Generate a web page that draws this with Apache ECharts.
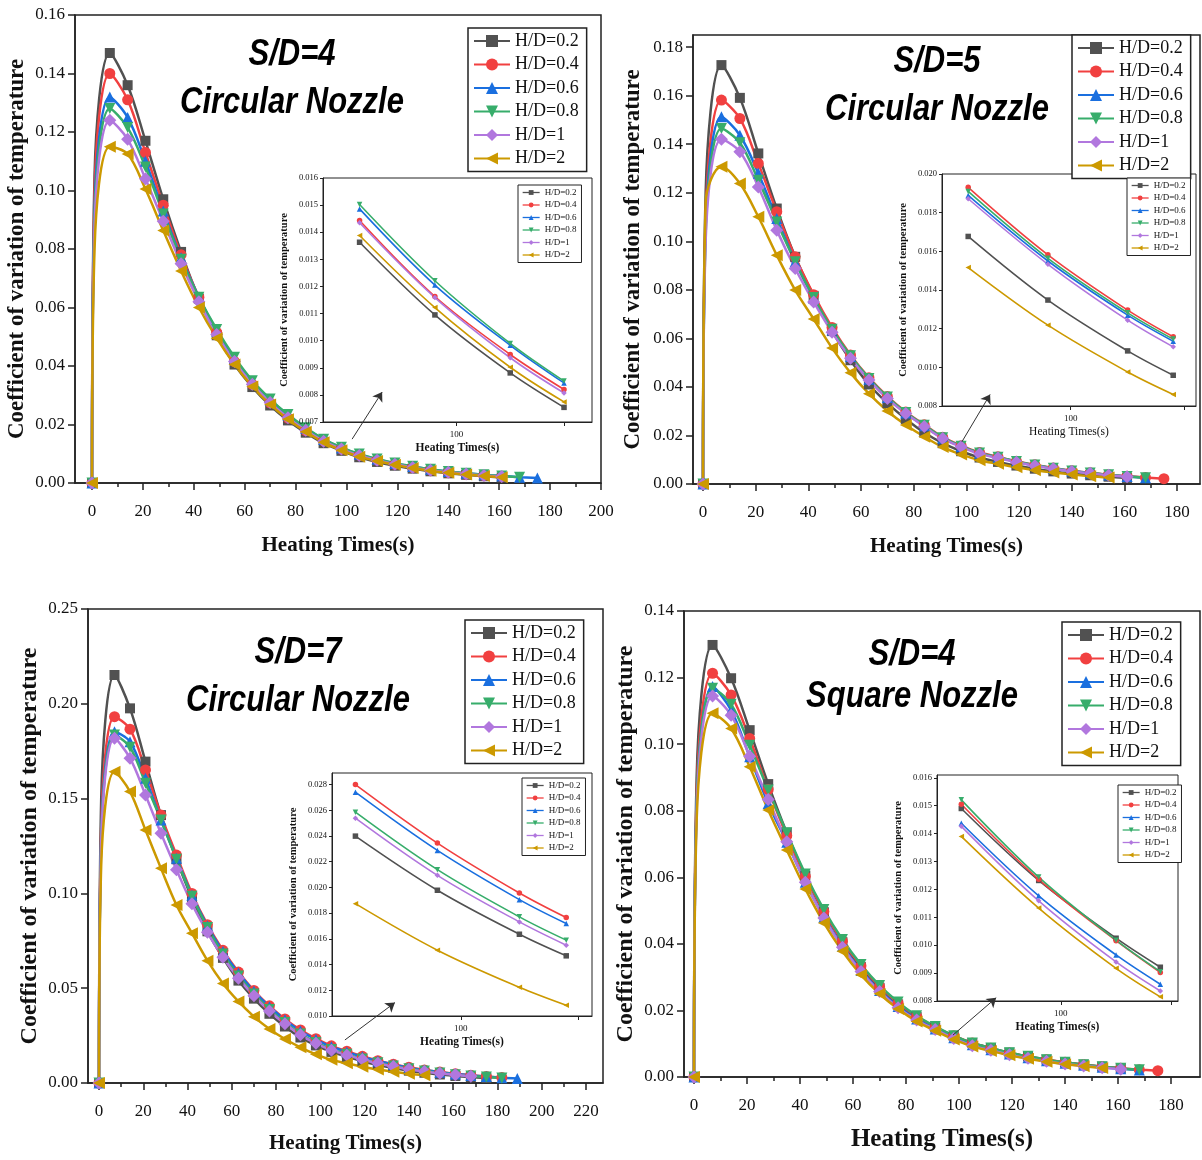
<!DOCTYPE html>
<html><head><meta charset="utf-8">
<script src="https://cdn.jsdelivr.net/npm/echarts@6/dist/echarts.min.js"></script>
<style>html,body{margin:0;padding:0;background:#fff}#c{width:1202px;height:1160px}</style>
</head><body><div id="c"></div>
<script>
// ---------- shared ----------
const times = [0,1,7,14,21,28,35,42,49,56,63,70,77,84,91,98,105,112,119,126,133,140,147,154,161,168,175,182,189];
const seriesNames = ['H/D=0.2','H/D=0.4','H/D=0.6','H/D=0.8','H/D=1','H/D=2'];

// ---------- panel 1 : S/D=4 circular ----------
const p1HD02 = [0,0.105,0.147,0.136,0.117,0.097,0.079,0.063,0.0505,0.0405,0.0328,0.0265,0.0214,0.0172,0.0136,0.0110,0.0088,0.0072,0.0059,0.0049,0.0040,0.0033,0.0028,0.0023,0.0019];
const p1HD04 = [0,0.100,0.140,0.131,0.113,0.095,0.078,0.0635,0.0515,0.0415,0.0337,0.0274,0.0222,0.0179,0.0144,0.0116,0.0095,0.0078,0.0064,0.0053,0.0044,0.0036,0.0030,0.0025,0.0021];
const p1HD06 = [0,0.094,0.132,0.125,0.110,0.093,0.077,0.0635,0.052,0.0425,0.0347,0.0284,0.0232,0.0187,0.0149,0.0120,0.0098,0.0081,0.0067,0.0056,0.0047,0.0039,0.0033,0.0028,0.0024,0.0020,0.0017];
const p1HD08 = [0,0.091,0.128,0.1215,0.108,0.092,0.0765,0.0635,0.0525,0.043,0.035,0.0287,0.0234,0.0189,0.0150,0.0122,0.0099,0.0082,0.0068,0.0057,0.0047,0.0039,0.0033,0.0028,0.0024,0.0020];
const p1HD1  = [0,0.088,0.124,0.1175,0.104,0.0895,0.075,0.062,0.0508,0.0415,0.0338,0.0275,0.0223,0.0180,0.0143,0.0116,0.0094,0.0078,0.0064,0.0053,0.0044,0.0037,0.0031,0.0026,0.0022];
const p1HD2  = [0,0.080,0.115,0.1125,0.1005,0.0863,0.0725,0.0600,0.0495,0.0405,0.0330,0.0268,0.0218,0.0175,0.0139,0.0112,0.0090,0.0075,0.0062,0.0051,0.0042,0.0035,0.0029,0.0024,0.0020];
const p1InsetTimes = [91,98,105,110];
const p1InHD02 = [0.01363,0.01095,0.00881,0.00754];
const p1InHD04 = [0.01443,0.01163,0.00949,0.00820];
const p1InHD06 = [0.01486,0.01205,0.00983,0.00844];
const p1InHD08 = [0.01502,0.01221,0.00990,0.00851];
const p1InHD1  = [0.01435,0.01159,0.00937,0.00807];
const p1InHD2  = [0.01388,0.01122,0.00902,0.00774];
const p1XTicks = [0,20,40,60,80,100,120,140,160,180,200];
const p1XMinor = [10,30,50,70,90,110,130,150,170,190];
const p1YTicks = [0,0.02,0.04,0.06,0.08,0.10,0.12,0.14,0.16];
const p1InYTicks = [0.007,0.008,0.009,0.010,0.011,0.012,0.013,0.014,0.015,0.016];

// ---------- panel 2 : S/D=5 circular ----------
const p2HD02 = [0,0.120,0.1726,0.1591,0.1362,0.1135,0.0936,0.0775,0.0630,0.0510,0.0410,0.0333,0.0268,0.0212,0.0168,0.0135,0.0109,0.0091,0.0076,0.0063,0.0052,0.0043,0.0036,0.0030,0.0025];
const p2HD04 = [0,0.110,0.1582,0.1506,0.1321,0.1122,0.0936,0.0780,0.0645,0.0532,0.0438,0.0361,0.0297,0.0244,0.0193,0.0158,0.0130,0.0112,0.0094,0.0079,0.0066,0.0055,0.0046,0.0038,0.0032,0.0027,0.0022];
const p2HD06 = [0,0.106,0.1513,0.1437,0.1280,0.1094,0.0916,0.0765,0.0635,0.0525,0.0432,0.0356,0.0293,0.0240,0.0189,0.0155,0.0127,0.0109,0.0092,0.0077,0.0064,0.0054,0.0045,0.0037,0.0031,0.0026];
const p2HD08 = [0,0.103,0.1465,0.1406,0.1252,0.1080,0.0916,0.0768,0.0638,0.0528,0.0435,0.0358,0.0295,0.0242,0.0191,0.0156,0.0128,0.0110,0.0093,0.0078,0.0065,0.0054,0.0045,0.0038,0.0031,0.0026];
const p2HD1  = [0,0.100,0.1420,0.1369,0.1224,0.1046,0.0888,0.0750,0.0625,0.0518,0.0428,0.0352,0.0290,0.0237,0.0187,0.0153,0.0124,0.0107,0.0090,0.0075,0.0063,0.0052,0.0044,0.0036,0.0030];
const p2HD2  = [0,0.116,0.1307,0.1238,0.1101,0.0943,0.0799,0.0680,0.0560,0.0458,0.0372,0.0301,0.0243,0.0195,0.0152,0.0122,0.0098,0.0083,0.0069,0.0057,0.0047,0.0039,0.0032,0.0027];
const p2InsetTimes = [91,98,105,109];
const p2InHD02 = [0.01677,0.01348,0.01085,0.00959];
const p2InHD04 = [0.01931,0.01582,0.01296,0.01158];
const p2InHD06 = [0.01889,0.01550,0.01270,0.01135];
const p2InHD08 = [0.01910,0.01564,0.01282,0.01146];
const p2InHD1  = [0.01872,0.01533,0.01244,0.01106];
const p2InHD2  = [0.01516,0.01218,0.00976,0.00860];
const p2XTicks = [0,20,40,60,80,100,120,140,160,180];
const p2XMinor = [10,30,50,70,90,110,130,150,170];
const p2YTicks = [0,0.02,0.04,0.06,0.08,0.10,0.12,0.14,0.16,0.18];
const p2InYTicks = [0.008,0.010,0.012,0.014,0.016,0.018,0.020];

// ---------- panel 3 : S/D=7 circular ----------
const p3HD02 = [0,0.150,0.2152,0.1976,0.1695,0.1413,0.1180,0.0975,0.0800,0.0660,0.0540,0.0445,0.0365,0.0298,0.0240,0.0198,0.0164,0.0139,0.0115,0.0095,0.0079,0.0065,0.0054,0.0045,0.0037,0.0031,0.0026];
const p3HD04 = [0,0.135,0.1932,0.1866,0.1651,0.1413,0.1202,0.1000,0.0835,0.0700,0.0585,0.0488,0.0407,0.0338,0.0280,0.0234,0.0196,0.0168,0.0141,0.0118,0.0099,0.0083,0.0069,0.0058,0.0049,0.0041,0.0034,0.0029];
const p3HD06 = [0,0.130,0.1853,0.1800,0.1607,0.1387,0.1185,0.0990,0.0828,0.0693,0.0580,0.0484,0.0402,0.0333,0.0274,0.0229,0.0191,0.0164,0.0138,0.0116,0.0097,0.0081,0.0068,0.0057,0.0048,0.0040,0.0034,0.0028,0.0024];
const p3HD08 = [0,0.128,0.1835,0.1771,0.1581,0.1387,0.1180,0.0985,0.0820,0.0680,0.0565,0.0470,0.0388,0.0319,0.0259,0.0214,0.0177,0.0151,0.0127,0.0107,0.0090,0.0075,0.0063,0.0053,0.0044,0.0037,0.0031,0.0026];
const p3HD1  = [0,0.127,0.1818,0.1713,0.1519,0.1317,0.1125,0.0945,0.0795,0.0663,0.0553,0.0460,0.0380,0.0312,0.0254,0.0209,0.0173,0.0147,0.0124,0.0104,0.0087,0.0073,0.0061,0.0051,0.0043,0.0036];
const p3HD2  = [0,0.115,0.1642,0.1537,0.1334,0.1132,0.0939,0.0790,0.0645,0.0525,0.0430,0.0350,0.0285,0.0232,0.0188,0.0151,0.0122,0.0104,0.0086,0.0071,0.0059,0.0049,0.0041];
const p3InsetTimes = [91,98,105,109];
const p3InHD02 = [0.02399,0.01978,0.01636,0.01468];
const p3InHD04 = [0.02800,0.02345,0.01957,0.01766];
const p3InHD06 = [0.02741,0.02288,0.01905,0.01719];
const p3InHD08 = [0.02585,0.02138,0.01771,0.01590];
const p3InHD1  = [0.02539,0.02094,0.01732,0.01551];
const p3InHD2  = [0.01874,0.01512,0.01223,0.01083];
const p3XTicks = [0,20,40,60,80,100,120,140,160,180,200,220];
const p3XMinor = [10,30,50,70,90,110,130,150,170,190,210];
const p3YTicks = [0,0.05,0.10,0.15,0.20,0.25];
const p3InYTicks = [0.010,0.012,0.014,0.016,0.018,0.020,0.022,0.024,0.026,0.028];

// ---------- panel 4 : S/D=4 square ----------
const p4HD02 = [0,0.090,0.1298,0.1198,0.1042,0.0880,0.0734,0.0605,0.0495,0.0405,0.0330,0.0268,0.0218,0.0180,0.0149,0.0123,0.0102,0.0087,0.0073,0.0062,0.0052,0.0044,0.0037,0.0031,0.0026];
const p4HD04 = [0,0.085,0.1213,0.1148,0.1017,0.0864,0.0725,0.0603,0.0497,0.0408,0.0334,0.0272,0.0222,0.0182,0.0150,0.0124,0.0102,0.0086,0.0072,0.0061,0.0052,0.0044,0.0037,0.0031,0.0026,0.0022,0.0019];
const p4HD06 = [0,0.082,0.1173,0.1102,0.0962,0.0822,0.0705,0.0585,0.0480,0.0393,0.0320,0.0260,0.0212,0.0174,0.0144,0.0118,0.0097,0.0082,0.0069,0.0058,0.0049,0.0041,0.0035,0.0029,0.0025,0.0021];
const p4HD08 = [0,0.082,0.1168,0.1120,0.0997,0.0862,0.0734,0.0610,0.0503,0.0413,0.0338,0.0275,0.0225,0.0184,0.0152,0.0124,0.0102,0.0087,0.0073,0.0062,0.0052,0.0044,0.0037,0.0031,0.0026,0.0022];
const p4HD1  = [0,0.080,0.1145,0.1087,0.0964,0.0834,0.0707,0.0585,0.0478,0.0390,0.0317,0.0257,0.0208,0.0171,0.0143,0.0116,0.0094,0.0080,0.0067,0.0056,0.0047,0.0039,0.0033,0.0028,0.0023];
const p4HD2  = [0,0.077,0.1093,0.1047,0.0932,0.0802,0.0682,0.0565,0.0463,0.0378,0.0307,0.0250,0.0204,0.0167,0.0139,0.0113,0.0092,0.0078,0.0065,0.0055,0.0046,0.0038,0.0032,0.0027];
const p4InsetTimes = [91,98,105,109];
const p4InHD02 = [0.01490,0.01232,0.01025,0.00921];
const p4InHD04 = [0.01505,0.01236,0.01016,0.00902];
const p4InHD06 = [0.01437,0.01177,0.00965,0.00860];
const p4InHD08 = [0.01521,0.01244,0.01018,0.00905];
const p4InHD1  = [0.01426,0.01159,0.00940,0.00836];
const p4InHD2  = [0.01390,0.01133,0.00917,0.00815];
const p4XTicks = [0,20,40,60,80,100,120,140,160,180];
const p4XMinor = [10,30,50,70,90,110,130,150,170];
const p4YTicks = [0,0.02,0.04,0.06,0.08,0.10,0.12,0.14];
const p4InYTicks = [0.008,0.009,0.010,0.011,0.012,0.013,0.014,0.015,0.016];

const insetXLabels = [100];
const insetXTicks = [100,110];

// ---------- styles ----------
const colors = ['#515151','#F14040','#1A6FDF','#37AD6B','#B177DE','#CC9900'];
const symbols = ['rect','circle','triangle','triangle','diamond','triangle'];
const rotates = [0,0,0,180,0,90];
const symSizes = [10,11,11,11,13,12];
const SERIF = '"Liberation Serif","DejaVu Serif",serif';
const SANS = '"Liberation Sans",Arial,sans-serif';
const AX = '#222';

const panels = [
 {main:[p1HD02,p1HD04,p1HD06,p1HD08,p1HD1,p1HD2], inset:[p1InHD02,p1InHD04,p1InHD06,p1InHD08,p1InHD1,p1InHD2], inT:p1InsetTimes,
  xTicks:p1XTicks, xMinor:p1XMinor, yTicks:p1YTicks, inYTicks:p1InYTicks,
  grid:{left:75,top:15,width:526,height:468}, xMin:-6.68, xMax:200, yMax:0.16,
  inGrid:{left:323,top:178,width:269,height:244}, inXMin:87.6, inXMax:112.6, inYMin:0.007, inYMax:0.016,
  arrow:[[102.2,0.0150],[114,0.0311]],
  t1:'S/D=4', t2:'Circular Nozzle', tx:292, ty1:55, ty2:103,
  legend:{left:468,top:28}, inLegend:{left:518,top:185},
  xNameSize:21, yNameSize:23, xNameGap:52, yNameGap:46, inXBold:true},
 {main:[p2HD02,p2HD04,p2HD06,p2HD08,p2HD1,p2HD2], inset:[p2InHD02,p2InHD04,p2InHD06,p2InHD08,p2InHD1,p2InHD2], inT:p2InsetTimes,
  xTicks:p2XTicks, xMinor:p2XMinor, yTicks:p2YTicks, inYTicks:p2InYTicks,
  grid:{left:693,top:35,width:507,height:449}, xMin:-3.8, xMax:188.7, yMax:0.185,
  inGrid:{left:942,top:174,width:254,height:232}, inXMin:88.7, inXMax:111.0, inYMin:0.008, inYMax:0.020,
  arrow:[[98.3,0.0174],[109,0.0369]],
  t1:'S/D=5', t2:'Circular Nozzle', tx:937, ty1:62, ty2:110,
  legend:{left:1072,top:35}, inLegend:{left:1127,top:178},
  xNameSize:21, yNameSize:23, xNameGap:52, yNameGap:48, inXBold:false},
 {main:[p3HD02,p3HD04,p3HD06,p3HD08,p3HD1,p3HD2], inset:[p3InHD02,p3InHD04,p3InHD06,p3InHD08,p3InHD1,p3InHD2], inT:p3InsetTimes,
  xTicks:p3XTicks, xMinor:p3XMinor, yTicks:p3YTicks, inYTicks:p3InYTicks,
  grid:{left:88,top:609,width:515,height:474}, xMin:-4.97, xMax:227.7, yMax:0.25,
  inGrid:{left:332,top:773,width:260,height:243}, inXMin:89.0, inXMax:111.2, inYMin:0.010, inYMax:0.0289,
  arrow:[[111.1,0.0227],[133.7,0.0424]],
  t1:'S/D=7', t2:'Circular Nozzle', tx:298, ty1:653, ty2:701,
  legend:{left:465,top:620}, inLegend:{left:522,top:778},
  xNameSize:21, yNameSize:24, xNameGap:50, yNameGap:46, inXBold:true},
 {main:[p4HD02,p4HD04,p4HD06,p4HD08,p4HD1,p4HD2], inset:[p4InHD02,p4InHD04,p4InHD06,p4InHD08,p4InHD1,p4InHD2], inT:p4InsetTimes,
  xTicks:p4XTicks, xMinor:p4XMinor, yTicks:p4YTicks, inYTicks:p4InYTicks,
  grid:{left:684,top:611,width:516,height:466}, xMin:-3.77, xMax:190.9, yMax:0.14,
  inGrid:{left:937,top:775,width:241,height:226}, inXMin:88.8, inXMax:110.6, inYMin:0.008, inYMax:0.0161,
  arrow:[[97.7,0.0126],[114,0.0238]],
  t1:'S/D=4', t2:'Square Nozzle', tx:912, ty1:655, ty2:697,
  legend:{left:1062,top:622}, inLegend:{left:1118,top:785},
  xNameSize:25, yNameSize:24, xNameGap:50, yNameGap:46, inXBold:true}
];

const option = {animation:false, backgroundColor:'#fff', grid:[], xAxis:[], yAxis:[], series:[], legend:[], graphic:[]};

panels.forEach((p) => {
  // ---- main grid ----
  const gi = option.grid.length;
  option.grid.push(Object.assign({show:true, borderColor:AX, borderWidth:1.5, backgroundColor:'rgba(0,0,0,0)'}, p.grid));
  const xi = option.xAxis.length, yi = option.yAxis.length;
  option.xAxis.push({type:'value', gridIndex:gi, min:p.xMin, max:p.xMax,
    axisLine:{show:true, onZero:false, lineStyle:{color:AX, width:1.5}},
    axisTick:{show:true, customValues:p.xTicks, length:7, lineStyle:{color:AX, width:1.5}},
    axisLabel:{customValues:p.xTicks, margin:20, fontSize:17, fontFamily:SERIF, color:'#111'},
    splitLine:{show:false},
    name:'Heating Times(s)', nameLocation:'middle', nameGap:p.xNameGap,
    nameTextStyle:{fontSize:p.xNameSize, fontWeight:'bold', fontFamily:SERIF, color:'#111'}});
  option.yAxis.push({type:'value', gridIndex:gi, min:0, max:p.yMax,
    axisLine:{show:true, onZero:false, lineStyle:{color:AX, width:1.5}},
    axisTick:{show:true, customValues:p.yTicks, length:7, lineStyle:{color:AX, width:1.5}},
    axisLabel:{customValues:p.yTicks, margin:10, fontSize:17, fontFamily:SERIF, color:'#111', formatter:v=>v.toFixed(2)},
    splitLine:{show:false},
    name:'Coefficient of variation of temperature', nameLocation:'middle', nameGap:p.yNameGap,
    nameTextStyle:{fontSize:p.yNameSize, fontWeight:'bold', fontFamily:SERIF, color:'#111'}});
  // ---- minor ticks grid (same geometry) ----
  const gm = option.grid.length;
  option.grid.push(Object.assign({show:false}, p.grid));
  option.xAxis.push({type:'value', gridIndex:gm, min:p.xMin, max:p.xMax,
    axisLine:{show:false}, axisLabel:{show:false}, splitLine:{show:false},
    axisTick:{show:true, customValues:p.xMinor, length:4, lineStyle:{color:AX, width:1.5}}});
  option.yAxis.push({type:'value', gridIndex:gm, min:0, max:1, show:false});

  // ---- main series ----
  p.main.forEach((vals, k) => {
    const s = {type:'line', name:seriesNames[k], xAxisIndex:xi, yAxisIndex:yi,
      data: vals.map((v,i) => i === 1 ? {value:[times[i], v], symbol:'none'} : [times[i], v]),
      smooth:0.35, symbol:symbols[k], symbolRotate:rotates[k], symbolSize:symSizes[k], showAllSymbol:true,
      lineStyle:{width:2.5, color:colors[k]}, itemStyle:{color:colors[k]}, z:2};
    if (k === 0) {
      s.markLine = {silent:true, z:40, symbol:['none','arrow'], symbolSize:9, label:{show:false},
        lineStyle:{color:'#333', width:1, type:'solid'},
        data:[[{coord:p.arrow[0]},{coord:p.arrow[1]}]]};
    }
    option.series.push(s);
  });

  // ---- inset ----
  const gin = option.grid.length;
  option.grid.push(Object.assign({show:true, borderColor:AX, borderWidth:1, backgroundColor:'#fff', z:10}, p.inGrid));
  const xin = option.xAxis.length, yin = option.yAxis.length;
  option.xAxis.push({type:'value', gridIndex:gin, min:p.inXMin, max:p.inXMax, z:12,
    axisLine:{show:true, onZero:false, lineStyle:{color:AX, width:1}},
    axisTick:{show:true, customValues:insetXTicks, length:4, lineStyle:{color:AX, width:1}},
    axisLabel:{customValues:insetXLabels, margin:8, fontSize:9, fontFamily:SERIF, color:'#111'},
    splitLine:{show:false},
    name:'Heating Times(s)', nameLocation:'middle', nameGap:20,
    nameTextStyle:{fontSize:11.5, fontWeight:p.inXBold ? 'bold' : 'normal', fontFamily:SERIF, color:'#111'}});
  option.yAxis.push({type:'value', gridIndex:gin, min:p.inYMin, max:p.inYMax, z:12,
    axisLine:{show:true, onZero:false, lineStyle:{color:AX, width:1}},
    axisTick:{show:true, customValues:p.inYTicks, length:3, lineStyle:{color:AX, width:1}},
    axisLabel:{customValues:p.inYTicks, margin:5, fontSize:8.5, fontFamily:SERIF, color:'#111', formatter:v=>v.toFixed(3)},
    splitLine:{show:false},
    name:'Coefficient of variation of temperature', nameLocation:'middle', nameGap:33,
    nameTextStyle:{fontSize:10.5, fontWeight:'bold', fontFamily:SERIF, color:'#111'}});
  p.inset.forEach((vals, k) => {
    option.series.push({type:'line', name:seriesNames[k], xAxisIndex:xin, yAxisIndex:yin,
      data: vals.map((v,i) => [p.inT[i], v]),
      smooth:0.35, symbol:symbols[k], symbolRotate:rotates[k], symbolSize:5.5, showAllSymbol:true,
      lineStyle:{width:1.6, color:colors[k]}, itemStyle:{color:colors[k]}, z:12});
  });

  // ---- legends ----
  option.legend.push({data:seriesNames, orient:'vertical', left:p.legend.left, top:p.legend.top,
    backgroundColor:'#fff', borderColor:AX, borderWidth:1.5, borderRadius:0, padding:[4,8,4,5],
    itemWidth:36, itemHeight:15, itemGap:5.5, selectedMode:false, z:20,
    textStyle:{fontSize:18, lineHeight:18, fontFamily:SERIF, color:'#111'}});
  option.legend.push({data:seriesNames, orient:'vertical', left:p.inLegend.left, top:p.inLegend.top,
    backgroundColor:'#fff', borderColor:AX, borderWidth:1, borderRadius:0, padding:[3,5,3,4],
    itemWidth:17, itemHeight:6, itemGap:3.5, selectedMode:false, z:20, lineStyle:{width:1.3},
    textStyle:{fontSize:9, lineHeight:9, fontFamily:SERIF, color:'#111'}});

  // ---- panel titles ----
  option.graphic.push({type:'text', x:p.tx, y:p.ty1, scaleY:1.2, z:30,
    style:{text:p.t1, font:'italic bold 31px ' + SANS, fill:'#000', textAlign:'center', textVerticalAlign:'middle'}});
  option.graphic.push({type:'text', x:p.tx, y:p.ty2, scaleY:1.2, z:30,
    style:{text:p.t2, font:'italic bold 31px ' + SANS, fill:'#000', textAlign:'center', textVerticalAlign:'middle'}});
});

const chart = echarts.init(document.getElementById('c'), null, {renderer:'canvas'});
chart.setOption(option);
</script>
</body></html>
